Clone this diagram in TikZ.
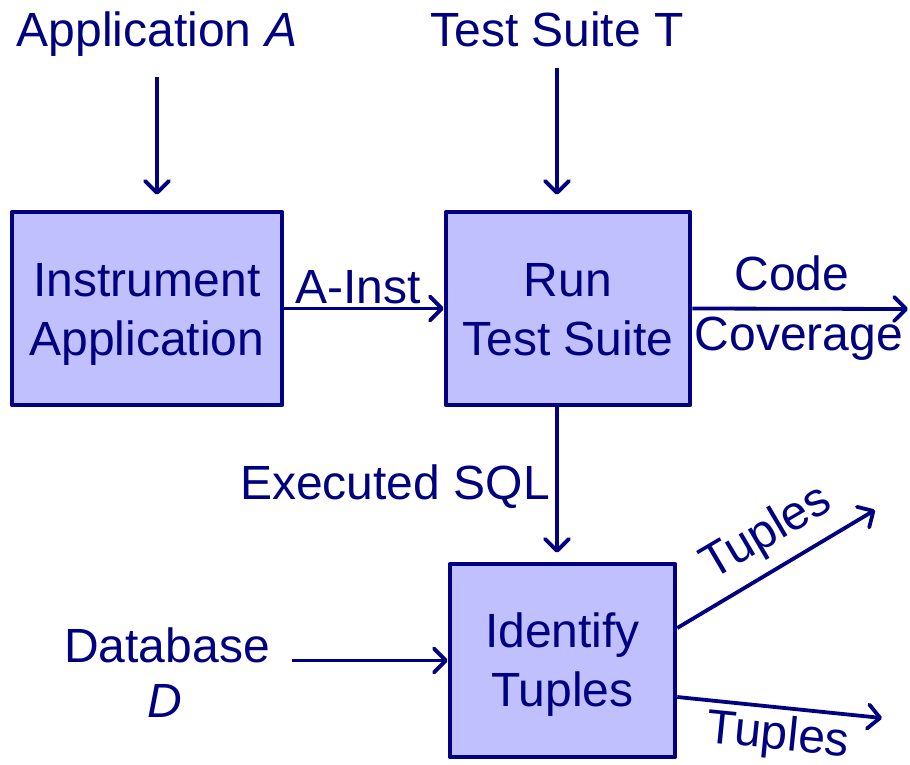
\documentclass[tikz,border=0pt]{standalone}
\usepackage{fontspec}
\setmainfont{Liberation Sans}
\usetikzlibrary{arrows.meta}
\definecolor{ink}{HTML}{000080}
\definecolor{boxfill}{HTML}{C0C0FF}
\begin{document}
\begin{tikzpicture}[x=1pt,y=-1pt,
  every node/.style={text=ink,inner sep=0pt,font=\fontsize{48}{58.5}\selectfont},
  procbox/.style={draw=ink,fill=boxfill,line width=4.5pt,line join=round,
    minimum height=193pt},
  boxtext/.style={align=center},
  lbl/.style={anchor=base},
  arr/.style={draw=ink,line width=3.8pt,
    -{Straight Barb[length=12pt,width=24pt,line cap=round,line join=round]}}]
\useasboundingbox (0,0) rectangle (910,765);

% process boxes
\node[procbox,minimum width=270pt] (inst) at (147,308.5) {};
\node[procbox,minimum width=244pt] (run) at (568,308.5) {};
\node[procbox,minimum width=225pt] (ident) at (562.5,660.5) {};
\node[boxtext] (instT) at ([yshift=-6pt]inst.center) {Instrument\\Application};
\node[boxtext] (runT) at ([yshift=-1pt]run.center) {Run\\Test Suite};
\node[boxtext] (identT) at ([yshift=-4pt]ident.center) {Identify\\Tuples};

% inputs
\node[lbl] (appA) at (157,47) {Application \textit{A}};
\node[lbl] (suiteT) at (557,47) {Test Suite T};
\node[lbl] (db) at (167,662) {Database};
\node[lbl] (dbD) at (165,717) {\textit{D}};

% free ends of the output arrows
\coordinate (cov) at (908,309);
\coordinate (tupA) at (875,510);
\coordinate (tupB) at (882,718);

% connectors
\draw[arr,shorten <=20pt,shorten >=15pt] (appA.south) -- (appA.south |- inst.north);
\draw[arr,shorten <=20pt,shorten >=15pt] (suiteT.south) -- (suiteT.south |- run.north);
\draw[arr] (inst.east) -- (run.west);
\draw[arr] (run.east) -- (cov);
\draw[arr,shorten >=9pt] ([xshift=-11pt]run.south) -- ([xshift=-11pt]run.south |- ident.north);
\draw[arr] ([xshift=22pt]db.east |- ident.west) -- (ident.west);
\draw[arr] ([yshift=32.5pt]ident.east) -- (tupA);
\draw[arr] ([yshift=-36.5pt]ident.east) -- (tupB);

% connector labels
\node[lbl] (ainst) at (358,303) {A-Inst};
\node[lbl] (code) at (792,290) {Code};
\node[lbl] (coverage) at (799,350) {Coverage};
\node[lbl] (sql) at (395,499) {Executed SQL};
\node[rotate=30.5] (tupAl) at (767,534) {Tuples};
\node[rotate=-5.8] (tupBl) at (778,737) {Tuples};
\end{tikzpicture}
\end{document}
